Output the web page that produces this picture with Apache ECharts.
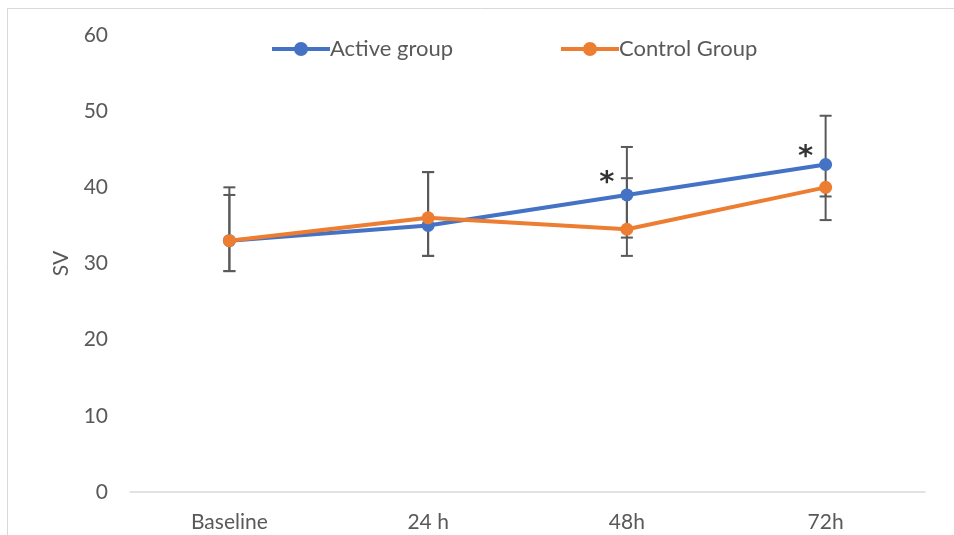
<!DOCTYPE html>
<html>
<head>
<meta charset="utf-8">
<script src="https://cdn.jsdelivr.net/npm/echarts@6/dist/echarts.min.js"></script>
<style>
html,body{margin:0;padding:0;background:#fff;}
#chart{width:954px;height:535px;}
</style>
</head>
<body>
<div id="chart"></div>
<script>
const categories = ['Baseline', '24 h', '48h', '72h'];
const activeValues = [33, 35, 39, 43];
const controlValues = [33, 36, 34.5, 40];
// error bar ends [low, high]
const activeErrLow = [29, 31, 33.4, 38.8];
const activeErrHigh = [39, 42, 45.3, 49.4];
const controlErrLow = [29, 31, 31, 35.7];
const controlErrHigh = [40, 42, 41.2, 40];
// significance markers
const sigIndex = [2, 3];
const sigValues = [41.5, 45];
const yTicks = [0, 10, 20, 30, 40, 50, 60];

const FONT = 'Lato, "Open Sans", sans-serif';
const TXT = '#595959';
const BLUE = '#4472C4';
const ORANGE = '#ED7D31';
const LEGEND_ICON = 'path://M0,5 L58,5 L58,9 L0,9 Z M22,7 A7,7 0 1,1 36,7 A7,7 0 1,1 22,7 Z';

const errData = [];
categories.forEach((c, i) => {
  errData.push([i, activeErrLow[i], activeErrHigh[i]]);
  errData.push([i, controlErrLow[i], controlErrHigh[i]]);
});

function renderErr(params, api) {
  const x = api.value(0);
  const lo = api.coord([x, api.value(1)]);
  const hi = api.coord([x, api.value(2)]);
  const hw = 6;
  const st = {stroke: '#595959', lineWidth: 2};
  return {
    type: 'group',
    children: [
      {type: 'line', shape: {x1: lo[0], y1: lo[1], x2: hi[0], y2: hi[1]}, style: st},
      {type: 'line', shape: {x1: lo[0]-hw, y1: lo[1], x2: lo[0]+hw, y2: lo[1]}, style: st},
      {type: 'line', shape: {x1: hi[0]-hw, y1: hi[1], x2: hi[0]+hw, y2: hi[1]}, style: st}
    ]
  };
}

const chart = echarts.init(document.getElementById('chart'));
chart.setOption({
  animation: false,
  backgroundColor: '#fff',
  graphic: [
    {type: 'line', shape: {x1: 7, y1: 8.5, x2: 954, y2: 8.5}, style: {stroke: '#d9d9d9', lineWidth: 1}},
    {type: 'line', shape: {x1: 7.5, y1: 8, x2: 7.5, y2: 535}, style: {stroke: '#d9d9d9', lineWidth: 1}}
  ],
  legend: {
    top: 38,
    left: 272,
    padding: 0,
    itemGap: 108,
    itemWidth: 58,
    itemHeight: 14,
    icon: LEGEND_ICON,
    textStyle: {color: TXT, fontFamily: FONT, fontSize: 22, padding: [0, 0, 0, -5]},
    data: ['Active group', 'Control Group']
  },
  grid: {left: 130, right: 29, top: 35, bottom: 43},
  xAxis: {
    type: 'category',
    data: categories,
    axisLine: {lineStyle: {color: '#d9d9d9', width: 1.5}},
    axisTick: {show: false},
    axisLabel: {color: TXT, fontFamily: FONT, fontSize: 21, margin: 20}
  },
  yAxis: {
    type: 'value',
    min: 0, max: 60, interval: 10,
    name: 'SV',
    nameLocation: 'middle',
    nameGap: 58,
    nameTextStyle: {color: TXT, fontFamily: FONT, fontSize: 21},
    splitLine: {show: false},
    axisLine: {show: false},
    axisTick: {show: false},
    axisLabel: {color: TXT, fontFamily: FONT, fontSize: 21, margin: 22,
      formatter: v => yTicks.includes(v) ? String(v) : ''}
  },
  series: [
    {
      type: 'custom', name: 'err', renderItem: renderErr, data: errData, z: 1,
      encode: {x: 0, y: [1, 2]}, silent: true
    },
    {
      name: 'Active group', type: 'line', data: activeValues, z: 3,
      symbol: 'circle', symbolSize: 13,
      lineStyle: {color: BLUE, width: 4}, itemStyle: {color: BLUE}
    },
    {
      name: 'Control Group', type: 'line', data: controlValues, z: 4,
      symbol: 'circle', symbolSize: 13,
      lineStyle: {color: ORANGE, width: 4}, itemStyle: {color: ORANGE}
    },
    {
      type: 'scatter', name: 'sig', silent: true, z: 5,
      symbolSize: 0,
      data: sigIndex.map((k, i) => [k, sigValues[i]]),
      label: {show: true, formatter: '*', color: '#000', fontSize: 29, fontFamily: 'DejaVu Sans', fontWeight: 'bold',
        position: 'inside', offset: [-20, 8]}
    }
  ]
});
</script>
</body>
</html>
